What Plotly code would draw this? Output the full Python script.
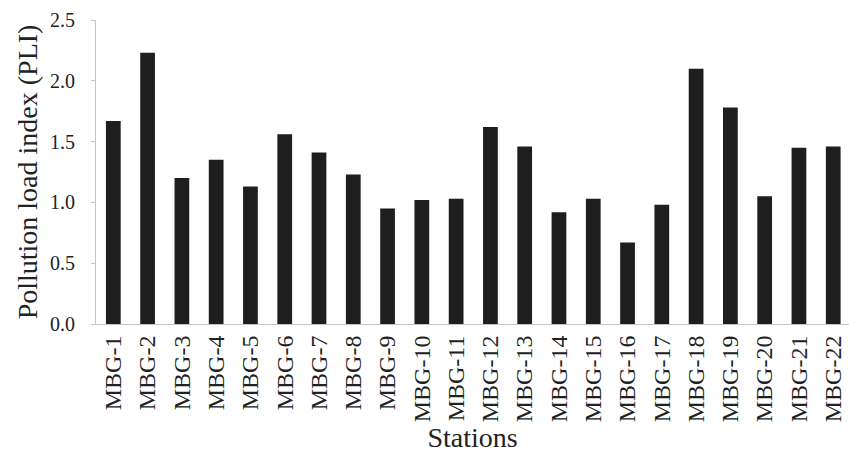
import plotly.graph_objects as go

# Pollution load index per sampling station
stations = [f"MBG-{i}" for i in range(1, 23)]
pli = [1.67, 2.23, 1.20, 1.35, 1.13, 1.56, 1.41, 1.23, 0.95, 1.02, 1.03,
       1.62, 1.46, 0.92, 1.03, 0.67, 0.98, 2.10, 1.78, 1.05, 1.45, 1.46]

y_ticks = [0.0, 0.5, 1.0, 1.5, 2.0, 2.5]

FONT = "Liberation Serif, Times New Roman, serif"
AXIS_GREY = "#c4c4c4"
TEXT = "#222222"

fig = go.Figure(
    go.Bar(
        x=list(range(len(stations))),
        y=pli,
        width=0.43,
        marker=dict(color="#1e1e1e", line=dict(width=0)),
        hoverinfo="skip",
    )
)

fig.update_layout(
    width=849,
    height=457,
    margin=dict(l=96, r=0, t=20, b=133),
    paper_bgcolor="white",
    plot_bgcolor="white",
    showlegend=False,
    font=dict(family=FONT, color=TEXT),
)

fig.update_xaxes(
    tickmode="array",
    tickvals=list(range(len(stations))),
    ticktext=stations,
    tickangle=-90,
    tickfont=dict(family=FONT, size=24, color=TEXT),
    range=[-0.505, 21.46],
    showline=True,
    linecolor=AXIS_GREY,
    linewidth=1,
    showgrid=False,
    zeroline=False,
    ticks="",
    ticklabelstandoff=1,
    title=dict(text="Stations", font=dict(family=FONT, size=28, color=TEXT), standoff=4),
)

fig.update_yaxes(
    range=[0, 2.5],
    tickmode="array",
    tickvals=y_ticks,
    ticktext=[f"{v:.1f}" for v in y_ticks],
    tickfont=dict(family=FONT, size=20, color=TEXT),
    showline=True,
    linecolor=AXIS_GREY,
    linewidth=1,
    showgrid=False,
    zeroline=False,
    ticks="outside",
    ticklen=4,
    tickcolor=AXIS_GREY,
    ticklabelstandoff=12,
    title=dict(text="Pollution load index (PLI)", font=dict(family=FONT, size=28, color=TEXT), standoff=4),
)

fig.write_html("out.html")
